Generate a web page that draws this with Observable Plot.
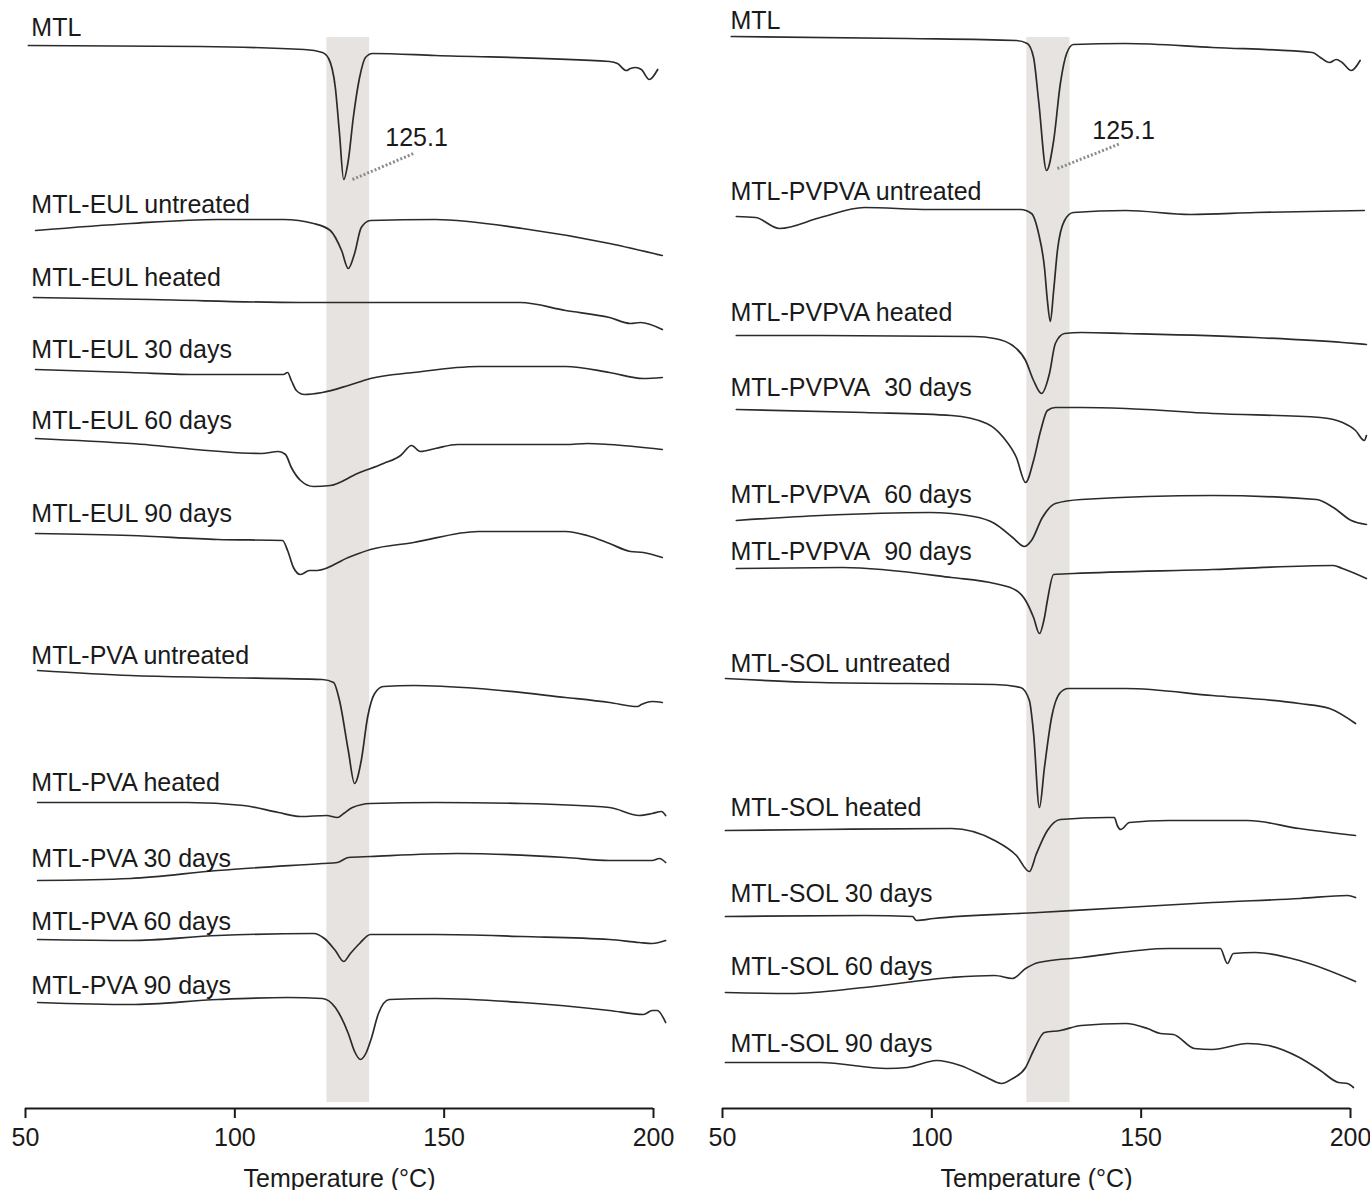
<!DOCTYPE html>
<html>
<head>
<meta charset="utf-8">
<script src="https://cdn.jsdelivr.net/npm/d3@7"></script>
<script src="https://cdn.jsdelivr.net/npm/@observablehq/plot@0.6"></script>
<style>
  html, body { margin: 0; padding: 0; background: #fff; }
  #wrap { display: flex; flex-direction: row; width: 1370px; }
  #wrap svg { display: block; }
</style>
</head>
<body>
<div id="wrap"></div>
<script>
// ---------- DATA: [temperature °C, heat flow (a.u., offset stacked)] ----------
// Left panel
const L_MTL = [[50.7,1063],[91.8,1062],[116.6,1059],[120.9,1056],[122.4,1050],[124.0,1021],[125.0,975],[126.0,929],[127.1,948],[128.3,991],[129.8,1031],[131.2,1051],[132.9,1055],[147.9,1053],[189.5,1047],[191.4,1045],[193.5,1038],[194.5,1040],[195.7,1041],[197.1,1039],[199.0,1029],[201.0,1039]];
const L_EUL_untreated = [[52.4,878],[75.1,885],[95.9,889],[111.6,889],[118.8,885],[122.8,878],[125.5,858],[127.1,840],[128.6,855],[130.2,881],[132.4,888],[147.9,889],[168.7,880],[189.5,865],[202.1,853]];
const L_EUL_heated = [[51.9,811],[79.9,809],[115.7,806],[168.2,806],[179.0,798],[189.5,791],[194.5,785],[196.9,786],[202.1,779]];
const L_EUL_30 = [[52.4,739],[75.1,736],[91.8,734],[111.6,734],[112.6,736],[113.5,728],[114.7,718],[116.6,714],[120.9,716],[127.1,723],[132.4,730],[142.7,736],[158.2,742],[179.0,742],[189.5,736],[197.6,730],[202.1,731]];
const L_EUL_60 = [[52.4,670],[75.1,665],[106.4,655],[110.4,657],[112.1,654],[113.5,641],[115.7,628],[118.8,622],[122.8,623],[129.3,635],[135.5,645],[139.6,653],[142.2,663],[144.3,657],[147.9,660],[153.2,664],[179.0,664],[184.2,665],[189.5,664],[202.1,659]];
const L_EUL_90 = [[52.4,575],[75.1,573],[95.9,569],[111.4,568],[112.6,558],[114.0,541],[115.7,534],[117.8,538],[119.7,538],[127.1,551],[132.4,559],[142.7,566],[158.2,577],[179.0,577],[184.2,573],[189.5,565],[194.5,557],[197.6,556],[202.1,551]];
const L_PVA_untreated = [[52.9,438],[75.1,433],[95.9,431],[120.9,429],[123.6,426],[125.0,408],[127.1,358],[128.6,325],[130.2,348],[131.7,391],[133.4,415],[135.5,422],[142.7,423],[158.2,420],[179.0,411],[189.5,406],[196.2,402],[197.1,404],[199.7,407],[202.1,406]];
const L_PVA_heated = [[52.9,306],[88.7,306],[102.1,303],[110.4,296],[115.7,292],[121.9,293],[124.5,291],[126.0,295],[128.1,301],[132.4,305],[147.9,306],[168.7,305],[189.5,301],[196.6,293],[199.7,295],[201.9,297],[202.9,293]];
const L_PVA_30 = [[52.9,228],[75.1,230],[95.9,238],[120.9,245],[124.5,246],[127.1,251],[132.4,252],[153.2,255],[179.0,251],[189.5,248],[199.7,248],[201.4,250],[202.9,246]];
const L_PVA_60 = [[52.9,169],[75.1,168],[95.9,173],[118.8,175],[121.4,170],[124.0,158],[126.0,147],[127.6,155],[129.8,165],[132.4,174],[147.9,174],[168.7,172],[189.5,169],[196.6,166],[199.7,165],[202.9,168]];
const L_PVA_90 = [[52.9,106],[75.1,104],[95.9,109],[112.6,111],[120.9,110],[124.0,101],[127.1,75],[128.6,57],[130.0,49],[131.4,56],[132.6,70],[134.3,95],[136.9,109],[147.9,110],[168.7,106],[189.5,98],[197.6,94],[199.7,98],[200.9,98],[202.9,86]];

// Right panel
const R_MTL = [[52.1,1072],[94.2,1070],[120.2,1068],[122.8,1065],[124.3,1051],[125.5,1008],[127.4,938],[129.1,968],[130.7,1025],[132.2,1055],[133.8,1064],[146.3,1065],[167.0,1061],[190.9,1056],[192.8,1051],[195.0,1046],[196.6,1049],[198.0,1046],[200.2,1038],[202.3,1048]];
const R_PVPVA_untreated = [[53.3,892],[57.9,891],[63.6,880],[73.4,891],[83.9,901],[99.4,899],[121.2,899],[123.8,895],[125.5,875],[126.9,841],[127.6,808],[128.3,787],[129.1,818],[130.0,858],[131.7,888],[133.8,896],[146.3,898],[161.8,894],[177.3,896],[203.3,898]];
const R_PVPVA_heated = [[53.3,773],[73.4,773],[110.0,772],[115.0,770],[119.3,763],[122.4,748],[124.3,728],[126.2,715],[128.1,735],[129.5,765],[131.7,775],[135.7,776],[146.3,775],[177.3,771],[198.1,766],[203.8,764]];
const R_PVPVA_30 = [[53.3,699],[83.9,696],[104.7,693],[113.1,685],[117.1,671],[120.2,651],[122.4,626],[124.3,648],[126.0,678],[127.6,698],[129.5,701],[135.7,701],[146.3,700],[167.0,695],[192.8,691],[198.1,686],[201.2,678],[203.3,668],[203.8,673]];
const R_PVPVA_60 = [[53.3,588],[73.4,593],[99.4,596],[110.0,592],[115.0,585],[119.3,571],[122.1,562],[123.8,568],[126.4,591],[129.5,605],[135.7,609],[167.0,613],[191.9,609],[195.9,601],[200.2,588],[203.8,584]];
const R_PVPVA_90 = [[53.3,540],[78.7,541],[104.7,531],[115.0,525],[120.2,518],[122.4,508],[124.3,491],[125.7,475],[126.9,491],[127.6,508],[129.1,534],[133.8,535],[167.0,539],[195.9,543],[198.1,540],[203.8,530]];
const R_SOL_untreated = [[50.7,430],[73.4,426],[115.0,424],[121.2,421],[123.3,408],[124.3,375],[125.7,301],[126.9,341],[128.6,391],[130.7,416],[132.6,420],[146.3,420],[167.0,413],[187.8,405],[195.0,400],[201.2,385]];
const R_SOL_heated = [[50.7,278],[73.4,279],[104.7,280],[115.0,268],[120.2,253],[123.3,237],[125.0,255],[127.6,278],[130.7,289],[142.0,291],[143.6,291],[144.3,283],[145.1,279],[147.2,286],[156.5,288],[175.4,288],[187.8,280],[201.2,273]];
const R_SOL_30 = [[50.7,192],[83.9,193],[95.4,192],[96.3,188],[100.4,190],[125.5,196],[146.3,201],[167.0,206],[188.0,210],[199.3,213],[201.2,211]];
const R_SOL_60 = [[50.7,116],[66.2,115],[83.9,121],[104.7,131],[115.0,133],[119.3,130],[122.4,140],[125.5,146],[135.7,151],[156.5,160],[168.9,160],[170.6,145],[172.0,155],[177.3,156],[187.8,148],[201.2,127]];
const R_SOL_90 = [[50.7,46],[73.4,46],[89.2,40],[94.2,41],[101.1,48],[106.8,43],[113.1,31],[116.6,25],[119.3,30],[122.4,41],[124.3,58],[126.9,76],[130.7,78],[135.7,83],[146.3,85],[151.5,80],[154.6,75],[157.7,74],[162.7,60],[167.0,59],[175.4,65],[180.4,63],[187.8,51],[192.8,38],[197.1,26],[199.3,25],[200.7,21]];

// Series names and the a.u. level at which each name is written
const leftNames = ["MTL","MTL-EUL untreated","MTL-EUL heated","MTL-EUL 30 days","MTL-EUL 60 days","MTL-EUL 90 days","MTL-PVA untreated","MTL-PVA heated","MTL-PVA 30 days","MTL-PVA 60 days","MTL-PVA 90 days"];
const leftLabelLevels = [1081,904,831,759,688,595,453,326,250,187,123];
const rightNames = ["MTL","MTL-PVPVA untreated","MTL-PVPVA heated","MTL-PVPVA\u00a0 30 days","MTL-PVPVA\u00a0 60 days","MTL-PVPVA\u00a0 90 days","MTL-SOL untreated","MTL-SOL heated","MTL-SOL 30 days","MTL-SOL 60 days","MTL-SOL 90 days"];
const rightLabelLevels = [1088,917,796,721,614,557,445,301,215,142,65];

const leftCurves = [L_MTL,L_EUL_untreated,L_EUL_heated,L_EUL_30,L_EUL_60,L_EUL_90,L_PVA_untreated,L_PVA_heated,L_PVA_30,L_PVA_60,L_PVA_90];
const rightCurves = [R_MTL,R_PVPVA_untreated,R_PVPVA_heated,R_PVPVA_30,R_PVPVA_60,R_PVPVA_90,R_SOL_untreated,R_SOL_heated,R_SOL_30,R_SOL_60,R_SOL_90];

// Melting band (°C) and peak annotation
const leftBand = [122, 132.2];
const rightBand = [122.7, 133];
const peakLabel = "125.1";
const leftPeakLink = {x1:128.1, y1:929, x2:142.7, y2:955, tx:143.4, ty:971};
const rightPeakLink = {x1:130.0, y1:940, x2:145.1, y2:965, tx:145.8, ty:978};
const xTicks = [50, 100, 150, 200];
const xLabel = "Temperature (°C)";

// ---------- DRAW ----------
const FONT = "'Liberation Sans', Arial, Helvetica, sans-serif";
function panel(curves, names, levels, band, link, labelT, margins) {
  const rows = [];
  curves.forEach((c, i) => c.forEach(([T, v]) => rows.push({series: names[i], T, v})));
  const labels = names.map((n, i) => ({n, T: labelT, v: levels[i]}));
  return Plot.plot({
    width: 685,
    height: 1190,
    marginLeft: margins[0],
    marginRight: margins[1],
    marginTop: 0,
    marginBottom: 82,
    x: {domain: [50, 200]},
    y: {domain: [0, 1108], axis: null},
    style: {fontFamily: FONT, fontSize: "25px", color: "#1a1a1a", background: "#fff", overflow: "visible"},
    marks: [
      Plot.rect([{x1: band[0], x2: band[1], y1: 6, y2: 1071}], {x1: "x1", x2: "x2", y1: "y1", y2: "y2", fill: "#e6e3e1"}),
      Plot.line(rows, {x: "T", y: "v", z: "series", stroke: "#2b2b2b", strokeWidth: 1.7, curve: "monotone-x"}),
      Plot.text(labels, {x: "T", y: "v", text: "n", textAnchor: "start", lineAnchor: "middle", fontSize: 25, fill: "#1a1a1a"}),
      Plot.link([link], {x1: "x1", y1: "y1", x2: "x2", y2: "y2", stroke: "#8c8c8c", strokeWidth: 3, strokeDasharray: "2,2"}),
      Plot.text([link], {x: "tx", y: "ty", text: () => peakLabel, fontSize: 25, lineAnchor: "middle", fill: "#1a1a1a"}),
      Plot.ruleY([0], {stroke: "#1a1a1a", strokeWidth: 2}),
      Plot.axisX({ticks: xTicks, tickSize: 10, tickPadding: 10, fontSize: 25, label: null, tickFormat: d => String(d), strokeWidth: 2}),
      Plot.text([xLabel], {frameAnchor: "bottom", dy: 70, text: d => d, fontSize: 25, lineAnchor: "middle", fill: "#1a1a1a"})
    ]
  });
}
const wrap = document.getElementById("wrap");
wrap.appendChild(panel(leftCurves, leftNames, leftLabelLevels, leftBand, leftPeakLink, 51.4, [25, 32]));
wrap.appendChild(panel(rightCurves, rightNames, rightLabelLevels, rightBand, rightPeakLink, 51.9, [37, 20]));
</script>
</body>
</html>
